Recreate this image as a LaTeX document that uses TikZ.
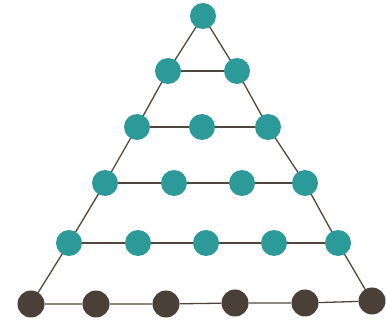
\documentclass[tikz,border=0pt]{standalone}
\usetikzlibrary{backgrounds}
\definecolor{tealdot}{HTML}{2C9A98}
\definecolor{darkdot}{HTML}{4A4037}
\definecolor{linec}{HTML}{4F463D}
\begin{document}
\begin{tikzpicture}[x=1pt,y=-1pt,
  tdot/.style={circle,fill=tealdot,minimum size=26pt,inner sep=0pt},
  ddot/.style={circle,fill=darkdot,minimum size=27pt,inner sep=0pt},
  conn/.style={draw=linec,line width=1.3pt}]
\useasboundingbox (0,0) rectangle (386,323);
% row 1
\node[tdot] (a1) at (203,16) {};
% row 2
\node[tdot] (b1) at (168,71) {};
\node[tdot] (b2) at (237,71) {};
% row 3
\node[tdot] (c1) at (137,127) {};
\node[tdot] (c2) at (202,127) {};
\node[tdot] (c3) at (268,127) {};
% row 4
\node[tdot] (d1) at (105,183) {};
\node[tdot] (d2) at (174,183) {};
\node[tdot] (d3) at (242,183) {};
\node[tdot] (d4) at (305,183) {};
% row 5
\node[tdot] (e1) at (69,243) {};
\node[tdot] (e2) at (138,243) {};
\node[tdot] (e3) at (206,243) {};
\node[tdot] (e4) at (274,243) {};
\node[tdot] (e5) at (338,243) {};
% row 6
\node[ddot] (f1) at (31,304) {};
\node[ddot] (f2) at (96,304) {};
\node[ddot] (f3) at (166,304) {};
\node[ddot] (f4) at (235,303) {};
\node[ddot] (f5) at (305,303) {};
\node[ddot] (f6) at (372,301) {};
\begin{scope}[on background layer]
  \draw[conn] (a1.center) -- (b1.center) -- (c1.center) -- (d1.center) -- (e1.center) -- (f1.center);
  \draw[conn] (a1.center) -- (b2.center) -- (c3.center) -- (d4.center) -- (e5.center) -- (f6.center);
  \draw[conn] (b1) -- (b2);
  \draw[conn] (c1) -- (c2) -- (c3);
  \draw[conn] (d1) -- (d2) -- (d3) -- (d4);
  \draw[conn] (e1) -- (e2) -- (e3) -- (e4) -- (e5);
  \draw[conn] (f1) -- (f2) -- (f3) -- (f4) -- (f5) -- (f6);
\end{scope}
\end{tikzpicture}
\end{document}
